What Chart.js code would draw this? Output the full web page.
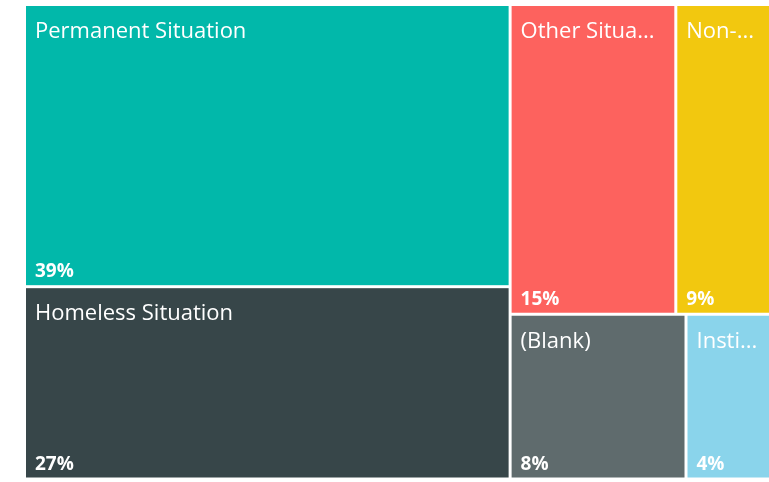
<!DOCTYPE html>
<html>
<head>
<meta charset="utf-8">
<script src="https://cdn.jsdelivr.net/npm/chart.js@4.4.0/dist/chart.umd.min.js"></script>
<style>
  html, body { margin: 0; padding: 0; background: #fff; overflow: hidden; }
  #wrap { position: relative; width: 775px; height: 482px; }
</style>
</head>
<body>
<div id="wrap"><canvas id="treemap"></canvas></div>
<script>
// data (sizes estimated from the tile areas)
const categories = ['Permanent Situation', 'Homeless Situation', 'Other Situation', 'Non-Homeless Situation', '(Blank)', 'Institutional Situation'];
const values = [39.25, 26.75, 14.7, 8.8, 8.3, 4.2];
const percentLabels = ['39%', '27%', '15%', '9%', '8%', '4%'];
const colors = ['#01B8AA', '#374649', '#FD625E', '#F2C80F', '#5F6B6D', '#8AD4EB'];

// squarified layout (golden ratio, same as d3.treemapSquarify)
function squarify(vals, x0, y0, x1, y1) {
  const ratio = (1 + Math.sqrt(5)) / 2;
  const rects = [];
  let value = vals.reduce((a, b) => a + b, 0);
  let i0 = 0, i1 = 0;
  const n = vals.length;
  while (i0 < n) {
    const dx = x1 - x0, dy = y1 - y0;
    let sum = vals[i1++];
    let minV = sum, maxV = sum;
    const alpha = Math.max(dy / dx, dx / dy) / (value * ratio);
    let beta = sum * sum * alpha;
    let minRatio = Math.max(maxV / beta, beta / minV);
    for (; i1 < n; ++i1) {
      const v = vals[i1];
      sum += v;
      if (v < minV) minV = v;
      if (v > maxV) maxV = v;
      beta = sum * sum * alpha;
      const r = Math.max(maxV / beta, beta / minV);
      if (r > minRatio) { sum -= v; break; }
      minRatio = r;
    }
    if (dx < dy) {
      const h = dy * sum / value;
      let x = x0;
      for (let i = i0; i < i1; i++) {
        const w = dx * vals[i] / sum;
        rects[i] = { x0: x, y0: y0, x1: x + w, y1: y0 + h };
        x += w;
      }
      y0 += h;
    } else {
      const w = dx * sum / value;
      let y = y0;
      for (let i = i0; i < i1; i++) {
        const h = dy * vals[i] / sum;
        rects[i] = { x0: x0, y0: y, x1: x0 + w, y1: y + h };
        y += h;
      }
      x0 += w;
    }
    value -= sum;
    i0 = i1;
  }
  return rects;
}

function fitText(ctx, text, maxW) {
  if (ctx.measureText(text).width <= maxW) return text;
  let t = text;
  while (t.length > 0 && ctx.measureText(t + '...').width > maxW) {
    t = t.slice(0, -1);
  }
  return t + '...';
}

const gap = 1.5;
const pad = 9;

const treemapPlugin = {
  id: 'treemap',
  afterDatasetsDraw(chart) {
    const { ctx, scales: { x, y } } = chart;
    const rects = squarify(values,
      x.getPixelForValue(0), y.getPixelForValue(0),
      x.getPixelForValue(100), y.getPixelForValue(100));

    ctx.save();
    rects.forEach((r, i) => {
      const left = r.x0 + gap, top = r.y0 + gap;
      const w = r.x1 - r.x0 - gap * 2, h = r.y1 - r.y0 - gap * 2;
      ctx.fillStyle = colors[i];
      ctx.fillRect(left, top, w, h);

      ctx.fillStyle = '#ffffff';
      ctx.textAlign = 'left';
      ctx.textBaseline = 'alphabetic';
      ctx.font = '22px "Open Sans"';
      ctx.fillText(fitText(ctx, categories[i], w - pad * 2 - 5), left + pad, top + 32);

      ctx.font = 'bold 19px "Open Sans"';
      ctx.fillText(percentLabels[i], left + pad, top + h - 8);
    });
    ctx.restore();
  }
};

new Chart(document.getElementById('treemap'), {
  type: 'scatter',
  data: { datasets: [{ data: [] }] },
  options: {
    responsive: true,
    maintainAspectRatio: false,
    animation: false,
    layout: { padding: { left: 24.5, top: 4.5, right: 0, bottom: 3 } },
    scales: {
      x: { display: false, min: 0, max: 100 },
      y: { display: false, min: 0, max: 100, reverse: true }
    },
    plugins: { legend: { display: false }, tooltip: { enabled: false } }
  },
  plugins: [treemapPlugin]
});
</script>
</body>
</html>
